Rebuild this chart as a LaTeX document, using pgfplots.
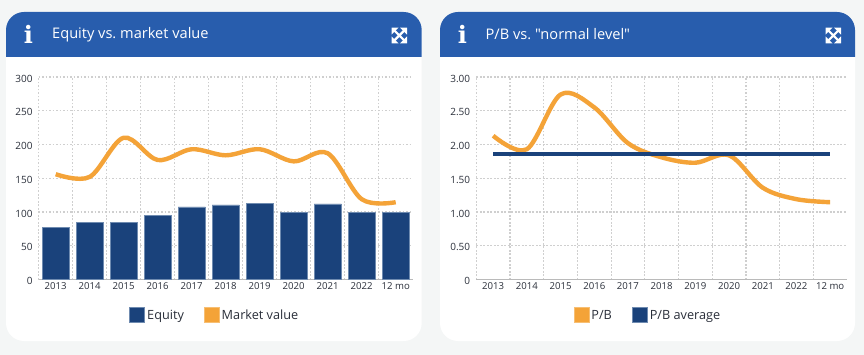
\documentclass[border=0pt]{standalone}
\usepackage{pgfplots}
\pgfplotsset{compat=1.18}
\usepackage{fontspec}
\setmainfont{Open Sans}
\newfontfamily\iconfont{DejaVu Serif}
\newfontfamily\titlefont{Open Sans}
\definecolor{pagebg}{HTML}{F4F6F6}
\definecolor{headblue}{HTML}{285DAD}
\definecolor{barblue}{HTML}{1A427B}
\definecolor{baredge}{HTML}{6F8BB0}
\definecolor{orange1}{HTML}{F4A338}
\definecolor{gridc}{HTML}{CFCFCF}
\definecolor{txt}{HTML}{2A2F3A}
\pgfplotsset{
  panel/.style={
    scale only axis, anchor=south west,
    height=202.5pt,
    ymin=0, ymax=300,
    xmin=-0.5, xmax=10.5,
    xtick={0,...,10},
    xticklabels={2013,2014,2015,2016,2017,2018,2019,2020,2021,2022,12 mo},
    minor xtick={-0.5,0.5,1.5,2.5,3.5,4.5,5.5,6.5,7.5,8.5,9.5},
    xminorgrids=true, ymajorgrids=true,
    grid style={draw=gridc, line width=1.2pt, dash pattern=on 1.7pt off 1.8pt},
    minor grid style={draw=gridc, line width=1.2pt, dash pattern=on 1.7pt off 1.8pt},
    major tick length=0pt, minor tick length=0pt,
    axis x line=bottom, axis y line=left,
    x axis line style={draw=gridc!90!black, line width=0.9pt, -},
    y axis line style={draw=none},
    xticklabel style={font=\fontsize{9.6}{11}\selectfont, text=txt, yshift=-1.2pt, inner sep=2pt},
    yticklabel style={font=\fontsize{10}{11}\selectfont, text=txt, yshift=-1.5pt, xshift=-4pt, inner sep=2pt},
    legend style={draw=none, fill=none, font=\fontsize{12.7}{15}\selectfont, text=txt,
      legend columns=2, inner sep=0pt,
      /tikz/column 1/.style={column sep=0pt},
      /tikz/column 2/.style={column sep=18pt},
      /tikz/column 3/.style={column sep=0pt}},
    legend cell align=left,
    clip=false,
  },
  swatch/.style={legend image code/.code={
    \draw[#1] (0pt,-7.2pt) rectangle (15pt,7.8pt);}},
}
\newcommand{\card}[4]{%
  \fill[white, rounded corners=18pt] (#1,-#3) rectangle (#2,-#4);
  \begin{scope}
    \clip (#1,-57pt) rectangle (#2,-#3);
    \fill[headblue, rounded corners=18pt] (#1,-#3) rectangle (#2,-100pt);
  \end{scope}
}
\newcommand{\expandicon}[2]{%
  \begin{scope}[shift={(#1,#2)}, white]
    \draw[line width=2.2pt] (-5pt,-5pt) -- (5pt,5pt) (-5pt,5pt) -- (5pt,-5pt);
    \fill (-7.8pt,7.8pt) -- (-0.8pt,7.8pt) -- (-7.8pt,0.8pt) -- cycle;
    \fill (7.8pt,7.8pt) -- (0.8pt,7.8pt) -- (7.8pt,0.8pt) -- cycle;
    \fill (-7.8pt,-7.8pt) -- (-0.8pt,-7.8pt) -- (-7.8pt,-0.8pt) -- cycle;
    \fill (7.8pt,-7.8pt) -- (0.8pt,-7.8pt) -- (7.8pt,-0.8pt) -- cycle;
  \end{scope}
}
\begin{document}
\begin{tikzpicture}[x=1pt,y=1pt]
\fill[pagebg] (0,0) rectangle (864,-355);
\useasboundingbox (0,0) rectangle (864,-355);
\card{6pt}{421.7pt}{12pt}{341pt}
\card{440pt}{855pt}{12pt}{341pt}
\node[anchor=center, text=white, font=\iconfont\bfseries\fontsize{24}{26}\selectfont] at (28.5,-34.5) {i};
\node[anchor=west, inner sep=0pt, text=white, font=\titlefont\fontsize{14.6}{17}\selectfont] at (52,-34.5) {Equity vs.\ market value};
\expandicon{399.3pt}{-35.5pt}
\node[anchor=center, text=white, font=\iconfont\bfseries\fontsize{24}{26}\selectfont] at (462.5,-34.5) {i};
\node[anchor=west, inner sep=0pt, text=white, font=\titlefont\fontsize{14.6}{17}\selectfont] at (485.5,-34.5) {P/B vs.\ "normal level"};
\expandicon{833.3pt}{-35.5pt}

\begin{axis}[panel, at={(38.7pt,-279.5pt)}, width=374pt,
  ytick={0,50,100,150,200,250,300},
  yticklabels={0,50,100,150,200,250,300},
  legend style={at={(0.471,-0.135)}, anchor=north},
]
\addplot[ybar, bar width=27.3pt, fill=barblue, draw=baredge, line width=0.8pt,
  swatch={fill=barblue, draw=baredge, line width=0.8pt}]
  coordinates {(0,77.6)(1,85)(2,85)(3,95.5)(4,107.5)(5,110.4)(6,113)(7,99)(8,112)(9,100)(10,100)};
\addlegendentry{Equity}
\addplot[smooth, tension=0.55, draw=orange1, line width=4.4pt,
  swatch={fill=orange1, draw=orange1!70!white, line width=0.8pt}]
  coordinates {(0,156)(1,152)(2,210)(3,177)(4,193)(5,184)(6,193)(7,175)(8,187)(9,119)(10,114.5)};
\addlegendentry{Market value}
\end{axis}

\begin{axis}[panel, at={(476.3pt,-279.5pt)}, width=370.7pt,
  ymax=3,
  ytick={0,0.5,1,1.5,2,2.5,3},
  yticklabels={0,0.50,1.00,1.50,2.00,2.50,3.00},
  legend style={at={(0.463,-0.135)}, anchor=north},
]
\addplot[smooth, tension=0.55, draw=orange1, line width=4.4pt,
  swatch={fill=orange1, draw=orange1!70!white, line width=0.8pt}]
  coordinates {(0,2.13)(1,1.93)(2,2.74)(3,2.55)(4,2.02)(5,1.81)(6,1.73)(7,1.84)(8,1.36)(9,1.19)(10,1.145)};
\addlegendentry{P/B}
\addplot[draw=barblue, line width=4.4pt,
  swatch={fill=barblue, draw=baredge, line width=0.8pt}]
  coordinates {(0,1.86)(1,1.86)(2,1.86)(3,1.86)(4,1.86)(5,1.86)(6,1.86)(7,1.86)(8,1.86)(9,1.86)(10,1.86)};
\addlegendentry{P/B average}
\end{axis}
\end{tikzpicture}
\end{document}
